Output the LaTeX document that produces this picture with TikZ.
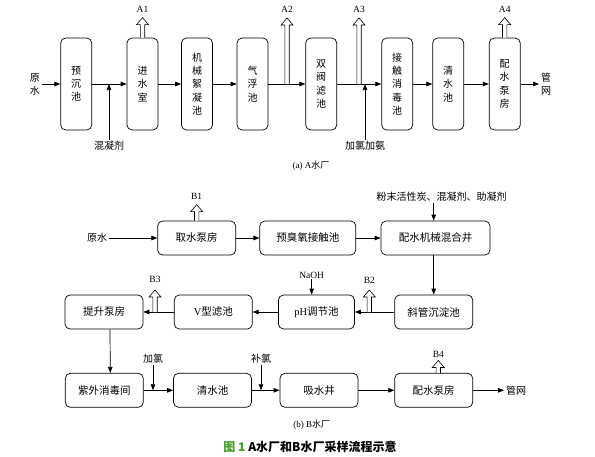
\documentclass[tikz,border=0pt]{standalone}
\usepackage{fontspec}
\setmainfont{Noto Sans CJK SC}
\newfontfamily\tnr{Liberation Serif}
\newfontfamily\cjk{Noto Sans CJK SC}
\usetikzlibrary{arrows.meta}
\definecolor{capgreen}{RGB}{78,154,46}
\tikzset{
  pics/samp/.style={code={\draw[line width=0.6pt,fill=white] (-2.2,0) -- (-2.2,-#1+7) -- (-6,-#1+7) -- (0,-#1) -- (6,-#1+7) -- (2.2,-#1+7) -- (2.2,0);}}
}
\begin{document}
\begin{tikzpicture}[x=1pt,y=-1pt,
  line width=0.7pt,
  arr/.style={-{Triangle[length=6pt,width=4.5pt]}},
  vbox/.style={draw,rounded corners=5pt,minimum width=31pt,minimum height=92pt,align=center,font=\fontsize{10}{13.3}\selectfont,inner sep=0pt},
  hbox/.style={draw,rounded corners=5pt,minimum width=78pt,minimum height=34pt,font=\fontsize{10.5}{12}\selectfont,inner sep=0pt},
  lbl/.style={font=\fontsize{10}{13}\selectfont,inner sep=1.5pt,align=center},
  tag/.style={font=\tnr\fontsize{9.5}{11}\selectfont,inner sep=0pt}
]
\useasboundingbox (0,0) rectangle (595,456);

% ---------- Part A ----------
\node[vbox] (ycc) at (76.2,84) {预\\沉\\池};
\node[vbox] (jss) at (142.5,84) {进\\水\\室};
\node[vbox] (jx) at (197,84) {机\\械\\絮\\凝\\池};
\node[vbox] (qf) at (252.5,84) {气\\浮\\池};
\node[vbox] (sf) at (321.2,84) {双\\阀\\滤\\池};
\node[vbox] (jc) at (397.2,84) {接\\触\\消\\毒\\池};
\node[vbox] (qs) at (448.2,84) {清\\水\\池};
\node[vbox] (ps) at (504.7,84) {配\\水\\泵\\房};

\node[lbl] (rawA) at (35,84) {原\\水};
\node[lbl] (pipeA) at (546,84) {管\\网};
\draw[arr] (rawA) -- (ycc);
\draw[arr] (ycc) -- (jss);
\draw[arr] (jss) -- (jx);
\draw[arr] (jx) -- (qf);
\draw[arr] (qf) -- (sf);
\draw[arr] (sf) -- (jc);
\draw[arr] (jc) -- (qs);
\draw[arr] (qs) -- (ps);
\draw[arr] (ps) -- (pipeA);

\node[lbl] (hnj) at (109,146) {混凝剂};
\draw[arr] (hnj) -- (hnj |- ycc.east);
\node[lbl] (jljA) at (365,146) {加氯加氨};
\draw[arr] (jljA) -- (jljA |- sf.east);

\pic at (jss.north) {samp=20};
\node[tag] (a1) at (142.5,9) {A1};
\coordinate (s2) at (287,84);
\pic at (s2) {samp=66};
\node[tag] (a2) at (287,9) {A2};
\coordinate (s3) at (359,84);
\pic at (s3) {samp=66};
\node[tag] (a3) at (359,9) {A3};
\pic at (ps.north) {samp=20};
\node[tag] (a4) at (504.7,9) {A4};

\node[tag,font=\tnr\fontsize{9}{11}\selectfont] (capA) at (311,166) {(a) A{\cjk 水厂}};

% ---------- Part B ----------
\node[hbox] (qsb) at (196.7,238) {取水泵房};
\node[hbox,minimum width=96pt] (ycy) at (307.8,238) {预臭氧接触池};
\node[hbox,minimum width=109pt] (hh) at (435.5,238) {配水机械混合井};
\node[hbox] (ts) at (104,312) {提升泵房};
\node[hbox] (vl) at (213.3,312) {{\tnr V}型滤池};
\node[hbox,minimum width=76pt] (ph) at (316.5,312) {{\tnr pH}调节池};
\node[hbox] (xg) at (433.7,312) {斜管沉淀池};
\node[hbox] (zw) at (104.3,390.3) {紫外消毒间};
\node[hbox] (qsc) at (212.5,390.3) {清水池};
\node[hbox] (xs) at (319,390.3) {吸水井};
\node[hbox] (psb) at (433.7,390.3) {配水泵房};

\node[lbl] (rawB) at (97,238) {原水};
\node[lbl] (pipeB) at (516,390.3) {管网};
\draw[arr] (rawB) -- (qsb);
\draw[arr] (qsb) -- (ycy);
\draw[arr] (ycy) -- (hh);
\draw[arr] (xg.north |- hh.south) -- (xg.north);
\draw[arr] (xg) -- (ph);
\draw[arr] (ph) -- (vl);
\draw[arr] (vl) -- (ts);
\draw[arr] ([xshift=6pt]ts.south) -- ([xshift=6pt]zw.north);
\draw[arr] (zw) -- (qsc);
\draw[arr] (qsc) -- (xs);
\draw[arr] (xs) -- (psb);
\draw[arr] (psb) -- (pipeB);

\node[lbl] (chem) at (441.7,196.7) {粉末活性炭、混凝剂、助凝剂};
\draw[arr] (chem.south -| xg.north) -- (xg.north |- hh.north);
\node[tag] (naoh) at (311.7,275.7) {NaOH};
\draw[arr] (naoh) -- (naoh |- ph.north);
\node[lbl] (jl2) at (153,358.3) {加氯};
\draw[arr] (jl2) -- (jl2 |- zw.east);
\node[lbl] (bl) at (261,358.3) {补氯};
\draw[arr] (bl) -- (bl |- qsc.east);

\pic at (qsb.north) {samp=16};
\node[tag] (b1) at (196.7,196) {B1};
\coordinate (t2) at (369.3,312);
\pic at (t2) {samp=22};
\node[tag] (b2) at (369.3,280) {B2};
\coordinate (t3) at (155,312);
\pic at (t3) {samp=22};
\node[tag] (b3) at (155,279) {B3};
\pic at ([xshift=4.6pt]psb.north) {samp=12.5};
\node[tag] (b4) at (438.3,354) {B4};

\node[tag,font=\tnr\fontsize{9}{11}\selectfont] (capB) at (311.7,424.3) {(b) B{\cjk 水厂}};

\node[font=\bfseries\fontsize{12}{14}\selectfont,inner sep=0pt] (cap) at (310,446.7) {\textcolor{capgreen}{图 1} A水厂和B水厂采样流程示意};
\end{tikzpicture}
\end{document}
